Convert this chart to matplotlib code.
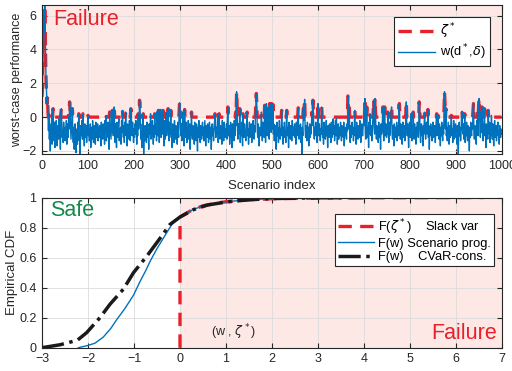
import numpy as np
import matplotlib.pyplot as plt
from matplotlib.ticker import FormatStrFormatter

plt.rcParams['font.family'] = ['Liberation Sans', 'DejaVu Sans']
plt.rcParams['mathtext.fontset'] = 'dejavusans'

# worst-case performance w(d*, delta) for each scenario
w_values = [
    1.2, 1.8, 3.0, 4.6, 6.0, 5.0, 6.6, 5.4, 3.2, 2.0, 1.4, 0.8, 1.2, 0.3, -0.8, 0.2, -1.3, -0.4, -2.0, -0.7, -1.1, 0.1, -1.6, -0.5, 0.5,
    -0.9, -1.4, -0.3, -1.8, -0.6, -1.2, -0.2, -1.0, -1.7, -0.5, -0.8, -1.3, -0.1, -1.1, -0.7, -1.9, 0.2, 0.5, -0.4, -1.2, -0.9, -1.5, -0.3, -0.8, -1.0,
    -1.4, -0.6, -1.1, -0.2, -1.6, -0.9, -0.4, -1.2, 0.1, -0.7, 0.9, 0.4, -0.5, -1.3, -0.8, -0.3, 0.5, -1.0, -1.5, -0.6, -1.9, -1.1, -0.4, -0.8, -2.1,
    -1.2, -0.7, -1.6, -0.3, -1.0, 0.2, -1.4, -0.8, -2.2, -0.5, -1.1, -0.9, -0.2, -1.3, 0.2, -0.6, -1.0, -1.7, -0.4, -1.2, -0.8, -0.5, -1.5, -0.9, -0.3,
    0.1, -1.1, -0.7, -1.4, -0.9, -0.4, -1.8, -1.0, -0.6, -1.3, -0.2, -0.8, -1.5, -1.1, -0.5, -0.9, -1.6, -0.3, -1.2, -0.7, -1.0, -0.4, -1.4, -0.8, -0.6,
    -1.2, -0.5, -0.9, -1.7, -0.3, -1.0, -0.7, -1.3, -0.4, -1.1, -0.8, -1.6, -0.2, -0.9, 0.1, -1.4, -0.6, -1.0, -0.3, -1.2, -0.7, -1.9, 0.3, -0.5, -0.9,
    -1.3, -0.6, 0.1, 0.4, -0.8, -1.1, -0.2, 0.6, -0.7, -1.5, -0.4, -1.0, -1.8, -0.3, -0.9, -1.2, -0.5, -0.1, -1.4, -0.7, -1.0, -0.6, -1.6, -0.2, -0.9,
    0.4, -0.8, -1.2, -0.5, -1.5, -0.3, -0.9, 0.3, -1.1, -0.6, -1.7, -0.4, -1.0, -0.7, -1.3, -0.2, -0.8, -1.4, 0.5, 0.4, -0.6, -1.1, -0.3, -0.9, -1.5,
    -0.7, -1.2, -0.4, -1.0, -0.2, -0.8, -1.6, -0.5, -1.1, 0.2, -0.7, -0.3, 1.0, 0.8, -0.6, -1.3, -0.9, -1.8, -0.4, -1.1, 0.2, -2.2, -0.8, -1.4, -0.5,
    -1.0, -0.6, -1.5, -0.3, -0.9, -1.2, -0.7, -1.9, -0.4, -1.0, -0.8, 0.2, -1.3, -0.6, -1.1, -0.2, -0.9, -1.6, -0.5, -1.2, 0.2, -0.7, -1.0, -0.4, -1.4,
    0.3, -0.8, -1.1, 0.4, -0.6, -1.5, -0.3, 0.4, -0.9, -1.2, -0.5, 0.3, -1.0, 0.4, -0.7, -1.7, -0.2, -0.9, -1.3, -0.6, 0.3, -1.1, -0.4, -0.8, 0.5,
    -0.9, -1.4, -0.3, -1.0, -0.6, 0.4, -1.2, -0.8, -1.8, -0.4, -1.1, -0.7, -1.5, -0.2, -0.9, -1.3, -0.5, -1.0, -0.7, -1.6, -0.3, -0.8, -1.2, 0.2, 0.85,
    0.8, -0.6, -1.1, -0.4, -1.4, -0.8, 0.3, -1.0, -0.5, -1.7, 0.45, -0.7, -1.2, -0.3, -0.9, -1.5, -0.6, -1.0, -0.2, -1.3, -0.8, -0.4, -1.9, -1.1, -0.6,
    0.3, -0.9, -1.3, -0.5, -1.0, -0.7, -1.6, -0.3, -1.1, -0.8, -1.4, -0.4, -0.9, -2.0, -0.6, -1.2, -0.2, -0.8, -1.0, -1.5, -0.5, -0.9, -1.3, -0.7, -0.3,
    -1.1, -0.6, -1.4, -0.8, -0.2, -1.0, -1.7, -0.5, -0.9, -1.2, -0.4, -0.7, -1.5, -1.0, -0.3, -0.8, -1.3, -0.6, -1.9, -0.9, -0.4, -1.1, -0.7, -1.4, -0.5,
    -0.3, 0.2, -0.8, -1.2, -0.6, -1.0, -0.4, 0.2, -1.5, -0.9, 0.2, -0.7, -1.3, -0.5, -1.1, -0.8, -1.6, -0.2, -1.0, -0.6, -1.4, -0.3, -0.9, -1.2, -0.7,
    -1.0, -0.4, -1.3, -0.2, 0.6, -0.8, -1.1, -0.5, -1.6, -0.9, -0.3, -1.2, -0.7, -1.8, -0.4, -1.0, -0.6, -1.4, -0.2, -0.9, -1.1, 0.3, -0.5, 1.5, 0.7,
    -0.8, -1.3, -0.4, -1.0, -0.6, 0.5, -1.5, -0.7, -1.1, -0.3, -0.9, -1.7, 0.2, -0.6, -1.2, -0.4, -1.0, -0.8, -1.4, -0.5, -0.2, 0.3, -1.1, -0.7, -1.6,
    -0.9, -0.3, -1.2, -0.6, -1.0, -0.4, -1.5, -0.8, -1.1, -0.2, -0.7, -1.3, -0.5, -0.9, 0.2, 0.8, 1.4, 0.6, -0.8, -1.2, -0.4, -1.0, -1.7, -0.6, -0.9,
    -1.1, -0.5, 0.3, -0.8, -1.4, -0.3, -1.0, -0.7, -1.2, 0.7, -0.6, -1.5, -0.4, 0.8, -0.9, -1.1, -0.5, 0.6, -0.8, -1.3, 0.8, -0.3, 0.5, -0.9, 0.8,
    0.6, -0.7, 0.75, -1.0, -0.4, -1.4, -0.8, -1.2, -0.5, -1.9, -0.9, -0.3, -1.1, -0.6, -1.5, -1.0, -0.2, -0.8, -1.3, -0.7, -1.1, 0.4, -0.5, -0.9, -1.6,
    -0.6, -1.0, -0.3, -1.2, -0.8, -1.5, -0.4, 0.4, -0.9, -1.1, -0.6, -1.8, -0.3, -1.0, -0.7, -1.3, -0.5, -0.9, -1.4, -0.2, -0.8, -1.1, -0.6, -1.0, -0.4,
    -1.2, -0.7, -1.6, -0.3, -0.9, -1.1, 0.1, 0.55, -0.8, -1.3, -0.5, -1.0, -0.4, -1.5, -0.9, -2.2, -0.6, -1.1, 0.5, -0.2, 0.6, 1.05, -0.7, -1.2, -0.5,
    -0.9, -1.4, -0.3, -1.0, -0.6, -1.7, -0.8, -0.4, -1.2, -0.7, -1.0, -0.2, 0.3, -0.5, 1.0, 0.2, -0.9, -1.3, -0.6, -1.0, -0.3, -1.1, -0.8, -1.5, -0.4,
    0.8, -0.6, -1.1, -0.4, -0.9, -1.4, -0.7, -1.0, 0.6, -0.5, -1.2, -0.8, -1.6, -0.3, -1.0, -0.6, -1.3, -0.9, -0.2, -1.1, -0.7, -1.8, -0.5, -0.9, -1.2,
    -0.4, -1.0, -0.7, -1.5, -0.3, -0.8, -1.2, -0.6, -0.1, -1.0, -0.5, -1.4, -0.9, -0.2, -1.1, -0.1, -0.7, -1.6, -1.0, -0.4, -1.3, -0.8, -0.6, -1.1, -0.3,
    -0.9, -1.4, -0.5, -1.0, -0.7, -1.2, -0.3, -1.7, -0.8, -1.1, -0.6, -0.9, -1.3, -0.4, -0.8, 1.25, 0.6, -0.7, 0.55, -1.0, -1.5, -0.5, -1.2, -0.8, -0.3,
    -1.0, -0.6, -1.4, -0.9, -0.4, 0.4, -1.1, -0.7, -1.6, -0.3, -1.0, -0.8, -1.3, -0.5, -0.9, -1.2, -0.2, -0.7, -1.5, -1.0, -0.4, -0.8, -1.1, -0.6, -0.3,
    0.2, -0.5, 1.1, -0.9, -1.3, -0.4, 0.6, -0.8, -1.2, -0.6, -1.8, -0.3, -1.0, 0.2, -0.7, -1.1, -0.5, -1.4, -0.9, -0.2, 0.3, 1.0, -0.6, -1.0, 1.1,
    0.3, -0.8, -1.3, -0.5, -1.0, -0.7, -1.5, -0.3, -0.9, -1.2, -0.6, -1.9, -0.4, -1.0, -0.8, -0.2, 0.6, -0.9, -1.4, -0.5, 0.6, -1.1, -0.7, -0.4, -1.2,
    -0.6, -1.0, 0.3, -0.8, -1.5, -0.3, -1.1, -0.7, -0.2, 0.3, 0.6, -0.9, -1.3, -0.5, -1.0, -1.7, -0.4, -0.8, -1.2, -0.6, -1.0, -0.3, -1.4, -0.9, -0.5,
    -1.1, 0.7, 0.8, -0.7, -1.3, -0.4, -1.0, -0.6, -1.6, -0.8, -0.3, -1.2, -0.9, -0.5, -1.4, -0.7, 0.2, 0.9, -0.6, -1.1, -0.4, -1.0, -1.8, -0.8, -0.3,
    -1.2, -0.6, 0.2, -0.9, -1.4, -0.5, -1.0, 0.3, -0.7, -1.3, -0.4, -0.8, -1.1, -1.6, -0.6, -1.0, -0.3, -0.9, -1.2, -0.5, 0.9, 0.4, -1.0, -1.5, -0.7,
    -0.4, -1.1, -0.8, -1.7, -0.5, -1.0, -0.2, 0.3, -0.9, -1.3, -0.6, -0.3, -1.0, -0.7, 0.45, -1.2, -0.5, -1.9, -0.8, -1.1, -0.4, -1.0, -0.6, -1.4, -0.9,
    -0.3, -1.2, -0.7, -1.0, -0.5, -1.5, -0.8, -0.2, 0.2, -1.1, -0.6, 0.1, -1.0, -1.3, -0.4, -0.9, -1.7, -0.6, -1.1, -0.3, -0.8, -1.4, -0.5, -1.0, 0.4,
    1.5, 0.9, -0.7, 0.5, -1.1, -0.6, -1.4, -0.9, -0.3, -1.0, -1.6, -0.5, -1.2, -0.8, -0.4, 0.1, -1.1, -0.7, -1.5, -0.9, -0.2, -1.3, -0.6, -1.0, -0.4,
    -1.2, -0.7, -1.6, -0.5, -1.0, -2.2, -0.8, -0.3, -1.1, -0.6, -1.4, -0.9, 0.1, 0.35, -0.7, -1.0, -0.4, -1.3, -0.8, 0.2, -1.5, -0.6, -1.1, -0.3, -0.9,
    -1.4, -0.5, -1.0, -0.8, -2.0, -0.6, -1.2, -0.3, -0.9, -1.1, -0.4, -0.7, 0.4, 0.8, -0.9, -1.3, -0.5, -1.0, -0.7, -1.6, -0.2, -0.8, 0.3, -1.1, 0.6,
    1.1, 0.7, -0.8, -1.2, -0.5, 0.3, -0.9, 0.6, -1.0, -1.4, -0.6, -0.3, 0.5, -1.1, -0.7, -1.8, -0.4, -1.0, -0.8, -1.3, 0.4, -0.6, -1.0, -0.3, -1.5,
    -0.8, -1.1, 0.1, -0.6, -1.3, -0.4, -1.0, -1.7, -0.7, -0.2, -1.2, -0.9, -0.5, -1.4, -1.0, -0.6, -0.3, -1.1, -0.8, -1.6, -0.5, -0.9, -1.2, -0.7, -1.0,
]

# empirical CDF of the scenario program
scen_x = [-2.21, -2.0, -1.85, -1.67, -1.5, -1.38, -1.2, -1.01, -0.87, -0.75, -0.65, -0.5, -0.36, -0.18, 0.0,
          0.25, 0.5, 0.75, 1.0, 1.5, 2.0, 3.0, 4.0, 5.0, 6.6]
scen_F = [0.0, 0.015, 0.03, 0.07, 0.13, 0.185, 0.26, 0.35, 0.44, 0.51, 0.575, 0.66, 0.73, 0.82, 0.87,
          0.915, 0.945, 0.96, 0.972, 0.985, 0.992, 0.996, 0.998, 0.999, 1.0]

# empirical CDF of the CVaR-constrained design
cvar_x = [-3.0, -2.6, -2.23, -2.03, -1.74, -1.52, -1.23, -1.01, -0.72, -0.43, -0.22, 0.0, 0.3, 0.6, 1.0, 1.5, 2.0, 3.0, 4.0]
cvar_F = [0.0, 0.02, 0.05, 0.10, 0.20, 0.29, 0.39, 0.50, 0.61, 0.73, 0.82, 0.87, 0.92, 0.95, 0.97, 0.985, 0.993, 0.998, 1.0]

top_xticks = list(range(0, 1001, 100))
top_yticks = [-2, 0, 2, 4, 6]
bot_xticks = list(range(-3, 8))
bot_yticks = [0, 0.2, 0.4, 0.6, 0.8, 1]

red = '#E8202A'
blue = '#0072BD'
pink = '#FDE8E6'
dark = '#262626'

w = np.array(w_values)
zeta = np.maximum(w, 0.0)
idx = np.arange(len(w))

fig = plt.figure(figsize=(5.12, 3.71), dpi=100)
ax1 = fig.add_axes([42 / 512, 1 - 154 / 371, 460 / 512, 149 / 371])
ax2 = fig.add_axes([42 / 512, 1 - 347.7 / 371, 460 / 512, 150.2 / 371])


def style(ax):
    ax.set_axisbelow(True)
    ax.grid(True, color='#dcdcdc', linewidth=0.6)
    ax.tick_params(direction='in', top=True, right=True, length=3.5, width=0.8,
                   labelsize=9, colors=dark, pad=4)
    for s in ax.spines.values():
        s.set_color(dark)
        s.set_linewidth(0.8)


# --- top panel
ax1.axhspan(0, 10, color=pink, zorder=0, linewidth=0)
ax1.plot(idx, zeta, '--', color=red, linewidth=2.4, dashes=(4, 2.5), label=r'$\zeta^*$')
ax1.plot(idx, w, '-', color=blue, linewidth=1.0, label=r'w(d$^*$,$\delta$)')
ax1.set_xlim(0, 1000)
ax1.set_ylim(-2.18, 6.63)
ax1.set_xticks(top_xticks)
ax1.set_yticks(top_yticks)
style(ax1)
ax1.set_xlabel('Scenario index', fontsize=9.5, color=dark, labelpad=6)
ax1.set_ylabel('worst-case performance', fontsize=9.0, color=dark)
ax1.yaxis.set_label_coords(-0.041, 0.5)
ax1.text(0.024, 0.975, 'Failure', transform=ax1.transAxes, color=red, fontsize=15.5,
         ha='left', va='top')
leg1 = ax1.legend(loc='upper right', bbox_to_anchor=(0.988, 0.96), fontsize=9.2,
                  handlelength=2.9, fancybox=False, framealpha=1, edgecolor=dark,
                  borderpad=0.3, labelspacing=0.15, handletextpad=0.4)
leg1.get_frame().set_linewidth(0.8)

# --- bottom panel
ax2.axvspan(0, 10, color=pink, zorder=0, linewidth=0)
pos = [i for i, x in enumerate(scen_x) if x >= 0]
red_x = [0.0] + [scen_x[i] for i in pos]
red_F = [0.0] + [scen_F[i] for i in pos]
ax2.plot(red_x, red_F, color=red, linestyle='--', dashes=(4, 2.5), linewidth=2.4,
         label=r'F($\zeta^*$)    Slack var')
ax2.plot(scen_x, scen_F, color=blue, linewidth=1.0, label='F(w) Scenario prog.')
ax2.plot(cvar_x, cvar_F, color='#1a1a1a', linestyle='-.', linewidth=2.5,
         label='F(w)    CVaR-cons.')
ax2.set_xlim(-3, 7)
ax2.set_ylim(0, 1)
ax2.set_xticks(bot_xticks)
ax2.set_yticks(bot_yticks)
ax2.yaxis.set_major_formatter(FormatStrFormatter('%g'))
style(ax2)
ax2.set_ylabel('Empirical CDF', fontsize=9.5, color=dark)
ax2.yaxis.set_label_coords(-0.052, 0.5)
ax2.text(0.018, 0.985, 'Safe', transform=ax2.transAxes, color='#15894A', fontsize=15.5,
         ha='left', va='top')
ax2.text(0.99, 0.025, 'Failure', transform=ax2.transAxes, color=red, fontsize=15.5,
         ha='right', va='bottom')
ax2.text(0.68, 0.04, r'(w , $\zeta^*$)', color=dark, fontsize=9, ha='left', va='bottom')
leg2 = ax2.legend(loc='upper right', bbox_to_anchor=(0.997, 0.935), fontsize=9.3,
                  handlelength=2.8, fancybox=False, framealpha=1, edgecolor=dark,
                  borderpad=0.25, labelspacing=0.1, handletextpad=0.3)
leg2.get_frame().set_linewidth(0.8)

fig.savefig('out.png', dpi=100)
